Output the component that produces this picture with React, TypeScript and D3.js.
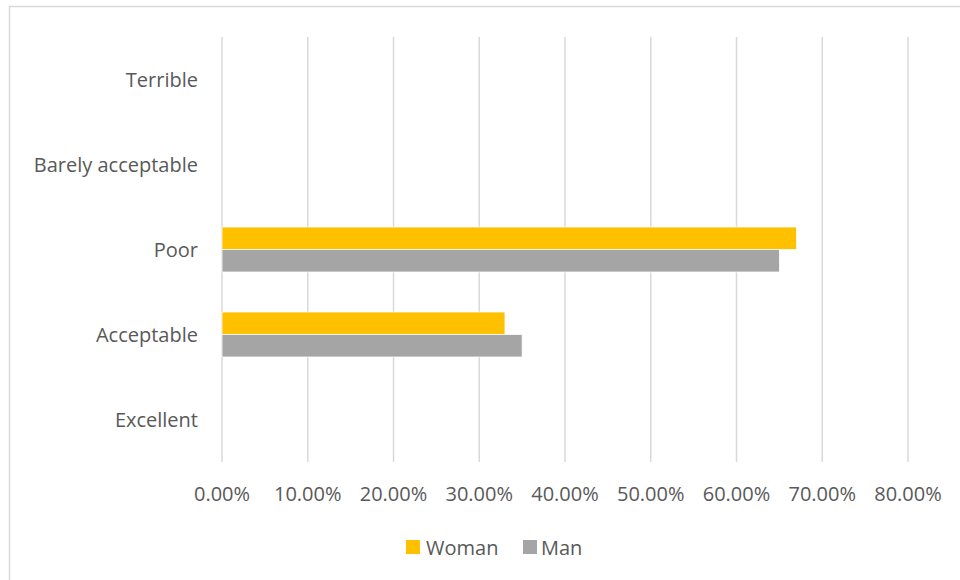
import React from "react";
import * as d3 from "d3";

const categories = ["Terrible", "Barely acceptable", "Poor", "Acceptable", "Excellent"];
const seriesNames = ["Woman", "Man"];
const womanValues = [0, 0, 0.67, 0.33, 0];
const manValues = [0, 0, 0.65, 0.35, 0];
const seriesColors = ["#FFC000", "#A5A5A5"];
const xTicks = [0, 0.1, 0.2, 0.3, 0.4, 0.5, 0.6, 0.7, 0.8];

const W = 960;
const H = 580;
const FONT = "'Open Sans', 'Noto Sans', sans-serif";
const FS = 20;

export default function App() {
  const x = d3.scaleLinear().domain([0, 0.8]).range([222, 908]);
  const y = d3.scaleBand<string>().domain(categories).range([37, 462]).paddingInner(0).paddingOuter(0);
  const inner = d3.scaleBand<string>().domain(seriesNames).range([0, y.bandwidth()]).paddingInner(0).paddingOuter(0.89);
  const values = [womanValues, manValues];
  const fmt = d3.format(".2%");

  return (
    <svg width={W} height={H} style={{ position: "absolute", left: 0, top: 0, background: "#fff" }}>
      <rect x={9.5} y={6.5} width={W} height={H} fill="#fff" stroke="#D9D9D9" strokeWidth={1.5} />
      {xTicks.map((t) => (
        <line key={t} x1={x(t)} x2={x(t)} y1={37} y2={462} stroke="#D9D9D9" strokeWidth={1.5} />
      ))}
      {categories.map((c, i) =>
        seriesNames.map((s, j) => {
          const v = values[j][i];
          if (!v) return null;
          return (
            <rect
              key={c + s}
              x={x(0)}
              y={(y(c) ?? 0) + (inner(s) ?? 0)}
              width={x(v) - x(0)}
              height={inner.bandwidth()}
              fill={seriesColors[j]}
              stroke="#fff"
              strokeWidth={0.75}
            />
          );
        })
      )}
      {categories.map((c) => (
        <text
          key={c}
          x={198}
          y={(y(c) ?? 0) + y.bandwidth() / 2}
          textAnchor="end"
          dominantBaseline="central"
          fontFamily={FONT}
          fontSize={FS}
          fill="#595959"
        >
          {c}
        </text>
      ))}
      {xTicks.map((t) => (
        <text
          key={"l" + t}
          x={x(t)}
          y={493}
          textAnchor="middle"
          dominantBaseline="central"
          fontFamily={FONT}
          fontSize={FS}
          fill="#595959"
        >
          {fmt(t)}
        </text>
      ))}
      <g>
        <rect x={406} y={540} width={14} height={14} fill={seriesColors[0]} />
        <text x={426} y={547} dominantBaseline="central" fontFamily={FONT} fontSize={FS} fill="#595959">
          {seriesNames[0]}
        </text>
        <rect x={523} y={540} width={14} height={14} fill={seriesColors[1]} />
        <text x={541} y={547} dominantBaseline="central" fontFamily={FONT} fontSize={FS} fill="#595959">
          {seriesNames[1]}
        </text>
      </g>
    </svg>
  );
}
